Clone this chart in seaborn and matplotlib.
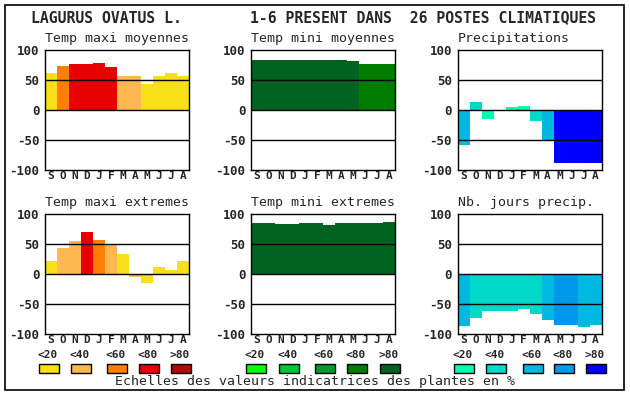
import numpy as np
import pandas as pd
import matplotlib
matplotlib.use("Agg")
import matplotlib.pyplot as plt
from matplotlib.patches import Rectangle
import seaborn as sns

months = ['S', 'O', 'N', 'D', 'J', 'F', 'M', 'A', 'M', 'J', 'J', 'A']

# colour scales (<20, <40, <60, <80, >80)
warm = ['#f8e018', '#ffb850', '#ff8000', '#e80000', '#b00c00']
green = ['#00ff00', '#00c832', '#009a30', '#007c00', '#006420']
blue = ['#00ffb0', '#00d8c8', '#00b8e0', '#0098e8', '#0000ff']
scale_labels = ['<20', '<40', '<60', '<80', '>80']

tmax_moy = [62, 74, 76, 76, 77.5, 72, 57, 56, 44, 56, 61, 57]
tmax_moy_cls = [0, 2, 3, 3, 3, 3, 1, 1, 0, 0, 0, 0]
tmin_moy = [82.5, 84, 84, 84, 82.5, 84, 84, 82.5, 81, 76, 77, 77]
tmin_moy_cls = [4, 4, 4, 4, 4, 4, 4, 4, 4, 3, 3, 3]
precip = [-59, 13.5, -15, 0, 5, 7, -18.5, -50.5, -89, -87.5, -87.5, -87.5]
precip_cls = [2, 1, 0, 0, 0, 0, 1, 2, 4, 4, 4, 4]

tmax_ext = [22, 44, 55.5, 70.5, 57, 49, 34, -4.5, -14.5, 12, 7, 22]
tmax_ext_cls = [0, 1, 1, 3, 2, 1, 0, 1, 0, 0, 0, 0]
tmin_ext = [85.5, 85.5, 84, 84, 85.5, 85.5, 82, 85.5, 85.5, 85.5, 85.5, 87]
tmin_ext_cls = [4] * 12
njours = [-86, -73, -61, -61, -61, -58, -66, -76, -84.5, -84.5, -88, -84.5]
njours_cls = [2, 1, 1, 1, 1, 1, 1, 2, 3, 3, 2, 2]

panels = [
    ("Temp maxi moyennes", tmax_moy, tmax_moy_cls, warm),
    ("Temp mini moyennes", tmin_moy, tmin_moy_cls, green),
    ("Precipitations", precip, precip_cls, blue),
    ("Temp maxi extremes", tmax_ext, tmax_ext_cls, warm),
    ("Temp mini extremes", tmin_ext, tmin_ext_cls, green),
    ("Nb. jours precip.", njours, njours_cls, blue),
]

sns.set_style("white")
plt.rcParams['font.family'] = ['DejaVu Sans Mono']

W, H = 630, 394
fig = plt.figure(figsize=(W / 100, H / 100), dpi=100)

lefts = [45, 251, 457.5]
tops = [50, 214]
aw, ah = 144, 120

for i, (title, vals, cls, pal) in enumerate(panels):
    r, c = divmod(i, 3)
    ax = fig.add_axes([lefts[c] / W, 1 - (tops[r] + ah) / H, aw / W, ah / H])
    df = pd.DataFrame({'pos': [str(k) for k in range(12)], 'val': vals})
    cols = [pal[k] for k in cls]
    sns.barplot(data=df, x='pos', y='val', hue='pos', palette=cols, legend=False,
                width=1.0, linewidth=0, saturation=1, ax=ax)
    for yv in (50, 0, -50):
        ax.axhline(yv, color='black', lw=1.0, zorder=5)
    ax.set_xlim(-0.5, 11.5)
    ax.set_ylim(-100, 100)
    ax.set_yticks([-100, -50, 0, 50, 100])
    ax.set_yticklabels(['-100', '-50', '0', '50', '100'], fontweight='bold', fontsize=9)
    ax.set_xticks(range(12))
    ax.set_xticklabels(months, fontweight='bold', fontsize=8)
    ax.tick_params(axis='x', length=0, pad=1)
    ax.tick_params(axis='y', length=0, pad=4)
    ax.set_xlabel('')
    ax.set_ylabel('')
    ax.set_title(title, fontsize=9.5, pad=6, loc='left')
    for s in ax.spines.values():
        s.set_visible(True)
        s.set_color('black')
        s.set_linewidth(1.0)

# overlay for header, legend and frame
ov = fig.add_axes([0, 0, 1, 1])
ov.set_xlim(0, W)
ov.set_ylim(H, 0)
ov.axis('off')
ov.add_patch(Rectangle((5, 5), 619, 385, fill=False, ec='black', lw=1.2))
ov.text(106, 18, "LAGURUS OVATUS L.", ha='center', va='center',
        fontsize=10.6, fontweight='bold')
ov.text(423, 18, "1-6 PRESENT DANS  26 POSTES CLIMATIQUES", ha='center', va='center',
        fontsize=10.6, fontweight='bold')

box_x = [[39, 71, 107, 139, 171], [246, 279, 315, 347, 380], [454, 486, 523, 554, 586]]
for group, pal in zip(box_x, [warm, green, blue]):
    for x0, colr, lab in zip(group, pal, scale_labels):
        ov.add_patch(Rectangle((x0, 364), 20, 9, fc=colr, ec='black', lw=1))
        ov.text(x0 + 9, 355, lab, ha='center', va='center', fontsize=8, fontweight='bold')

ov.text(315, 382, "Echelles des valeurs indicatrices des plantes en %",
        ha='center', va='center', fontsize=9.5)

fig.savefig("out.png", dpi=100)
